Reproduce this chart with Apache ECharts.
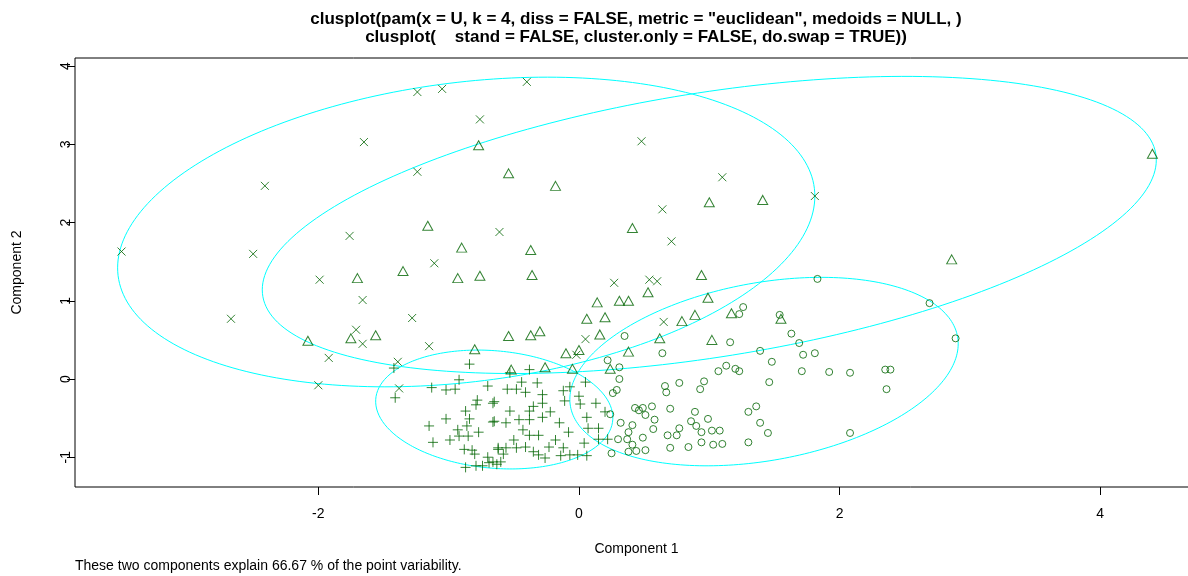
<!DOCTYPE html>
<html>
<head>
<meta charset="utf-8">
<script src="https://cdn.jsdelivr.net/npm/echarts@6/dist/echarts.min.js"></script>
<style>
html, body { margin: 0; padding: 0; background: #ffffff; }
#chart { width: 1188px; height: 576px; }
</style>
</head>
<body>
<div id="chart"></div>
<script>
// Cluster memberships on the first two principal components
const crossPts = [
  [-3.51, 1.63], [-1.24, 3.67], [-1.05, 3.71], [-0.40, 3.80], [-0.76, 3.32],
  [-1.65, 3.03], [-2.41, 2.47], [-1.24, 2.65], [-2.50, 1.60], [-2.67, 0.77],
  [-1.99, 1.27], [-1.76, 1.83], [-1.66, 1.01], [-1.28, 0.78], [-1.92, 0.27],
  [-2.00, -0.08], [-1.39, 0.22], [-1.11, 1.48], [-1.71, 0.63], [-1.66, 0.45],
  [-1.15, 0.42], [-1.38, -0.12], [0.48, 3.04], [1.10, 2.58], [0.64, 2.17],
  [0.71, 1.76], [-0.61, 1.88], [1.81, 2.34], [0.27, 1.23], [0.54, 1.27],
  [0.60, 1.25], [0.65, 0.73], [0.05, 0.51], [-0.02, 0.31]
];

const trianglePts = [
  [-1.16, 1.96], [-0.77, 2.99], [-0.54, 2.63], [-0.18, 2.47], [1.00, 2.26],
  [1.41, 2.29], [0.41, 1.93], [-0.90, 1.68], [-0.37, 1.65], [4.40, 2.88],
  [2.86, 1.53], [-1.70, 1.29], [-1.35, 1.38], [-2.08, 0.49], [-1.75, 0.52],
  [-1.56, 0.56], [-0.93, 1.29], [-0.76, 1.32], [-0.36, 1.33], [0.94, 1.33],
  [0.53, 1.11], [0.14, 0.98], [0.31, 1.00], [0.38, 1.00], [0.99, 1.04],
  [0.06, 0.77], [0.20, 0.79], [0.79, 0.74], [0.89, 0.82], [1.17, 0.84],
  [1.55, 0.77], [-0.30, 0.61], [0.16, 0.57], [0.62, 0.52], [1.02, 0.50],
  [-0.54, 0.55], [-0.37, 0.56], [-0.80, 0.38], [-0.10, 0.33], [0.00, 0.37],
  [-0.52, 0.12], [-0.26, 0.15], [-0.05, 0.13], [0.38, 0.35], [0.24, 0.13]
];

const circlePts = [
  [1.83, 1.28], [2.69, 0.97], [1.26, 0.92], [1.23, 0.83], [1.54, 0.82],
  [0.35, 0.55], [1.16, 0.47], [1.63, 0.58], [1.69, 0.46], [1.72, 0.31],
  [1.81, 0.33], [1.71, 0.10], [1.92, 0.09], [2.08, 0.08], [2.35, 0.12],
  [2.39, 0.12], [2.36, -0.13], [2.89, 0.52], [2.08, -0.69], [0.64, 0.33],
  [1.39, 0.36], [1.48, 0.22], [0.22, 0.24], [0.31, 0.15], [1.07, 0.10],
  [1.13, 0.17], [1.20, 0.13], [1.23, 0.10], [1.46, -0.04], [0.31, 0.00],
  [0.77, -0.05], [0.96, -0.03], [0.93, -0.13], [0.66, -0.09], [0.67, -0.17],
  [0.26, -0.18], [0.29, -0.14], [0.43, -0.37], [0.49, -0.37], [0.46, -0.40],
  [0.56, -0.35], [0.51, -0.46], [0.70, -0.38], [0.89, -0.42], [0.58, -0.52],
  [0.32, -0.56], [0.41, -0.59], [0.24, -0.45], [0.57, -0.64], [0.38, -0.68],
  [0.77, -0.63], [0.86, -0.54], [0.90, -0.60], [0.99, -0.51], [0.94, -0.68],
  [1.02, -0.66], [1.08, -0.66], [0.68, -0.72], [0.75, -0.72], [0.49, -0.75],
  [0.37, -0.77], [0.30, -0.77], [0.41, -0.84], [0.25, -0.95], [0.38, -0.93],
  [0.44, -0.92], [0.51, -0.91], [0.70, -0.88], [0.84, -0.87], [0.94, -0.81],
  [1.03, -0.84], [1.10, -0.83], [1.30, -0.42], [1.36, -0.35], [1.39, -0.56],
  [1.45, -0.69], [1.30, -0.81]
];

const plusPts = [
  [-1.42, 0.14], [-1.41, -0.24], [-1.13, -0.11], [-1.15, -0.60], [-1.12, -0.81],
  [-0.84, 0.19], [-0.92, -0.01], [-1.02, -0.14], [-0.95, -0.13], [-0.70, -0.09],
  [-0.78, -0.27], [-0.79, -0.33], [-0.66, -0.31], [-0.87, -0.41], [-1.02, -0.51],
  [-0.84, -0.51], [-0.66, -0.55], [-0.86, -0.60], [-0.77, -0.68], [-0.93, -0.65],
  [-0.92, -0.73], [-0.85, -0.73], [-0.99, -0.78], [-0.88, -0.90], [-0.82, -0.91],
  [-0.62, -0.90], [-0.70, -1.00], [-0.80, -0.96], [-0.87, -1.13], [-0.79, -1.11],
  [-0.74, -1.11], [-0.69, -1.07], [-0.63, -1.09], [-0.38, 0.12], [-0.53, 0.08],
  [0.05, -0.04], [-0.44, -0.04], [-0.48, -0.13], [-0.32, -0.05], [-0.55, -0.13],
  [-0.07, -0.10], [-0.41, -0.17], [-0.28, -0.20], [-0.12, -0.15], [-0.11, -0.28],
  [0.00, -0.22], [0.01, -0.32], [-0.65, -0.29], [0.13, -0.31], [-0.28, -0.31],
  [-0.35, -0.35], [-0.22, -0.42], [-0.53, -0.41], [-0.38, -0.41], [0.06, -0.49],
  [0.20, -0.42], [-0.65, -0.54], [-0.56, -0.56], [-0.46, -0.52], [-0.38, -0.52],
  [-0.28, -0.49], [-0.15, -0.56], [-0.08, -0.68], [0.07, -0.63], [0.15, -0.63],
  [-0.43, -0.65], [-0.38, -0.72], [-0.31, -0.72], [-0.18, -0.78], [-0.23, -0.87],
  [-0.50, -0.78], [-0.62, -0.88], [-0.56, -0.88], [-0.48, -0.88], [-0.41, -0.87],
  [-0.35, -0.93], [-0.31, -0.97], [-0.26, -1.01], [0.04, -0.82], [0.15, -0.77],
  [0.22, -0.77], [-0.12, -0.88], [-0.14, -0.98], [-0.07, -0.97], [-0.01, -0.97],
  [0.06, -0.98], [-0.58, -0.96], [-0.60, -1.06], [-0.66, -1.06]
];

// Cluster ellipses: centre, half extent along x and y, phase lag of y behind x (radians)
const ellipseParams = [
  { cx: -0.865, cy: 1.88, rx: 2.675, ry: 1.98, lag: 1.337 },
  { cx: 1.00, cy: 1.97, rx: 3.43, ry: 1.90, lag: 1.119 },
  { cx: 1.42, cy: 0.095, rx: 1.49, ry: 1.205, lag: 1.272 },
  { cx: -0.65, cy: -0.39, rx: 0.91, ry: 0.76, lag: 1.710 }
];

const xTicks = [-2, 0, 2, 4];
const yTicks = [-1, 0, 1, 2, 3, 4];

const titleLines = [
  'clusplot(pam(x = U, k = 4, diss = FALSE, metric = "euclidean", medoids = NULL, )',
  'clusplot(    stand = FALSE, cluster.only = FALSE, do.swap = TRUE))'
];
const captionText = 'These two components explain 66.67 % of the point variability.';

const FONT = '"Liberation Sans", Arial, Helvetica, sans-serif';
const POINT_COLOR = '#006400';
const ELLIPSE_COLOR = '#00ffff';

function ellipseOutline(e) {
  const pts = [];
  const n = 240;
  for (let i = 0; i <= n; i++) {
    const t = (i / n) * Math.PI * 2;
    pts.push([e.cx + e.rx * Math.cos(t), e.cy + e.ry * Math.cos(t - e.lag)]);
  }
  return pts;
}

const hollow = { color: 'rgba(0,0,0,0)', borderColor: POINT_COLOR, borderWidth: 1 };

function pointSeries(data, symbol, size) {
  return {
    type: 'scatter',
    data: data,
    symbol: symbol,
    symbolSize: size,
    itemStyle: hollow,
    silent: true,
    z: 3
  };
}

const series = [];
ellipseParams.forEach(function (e) {
  series.push({
    type: 'line',
    data: ellipseOutline(e),
    showSymbol: false,
    smooth: false,
    lineStyle: { color: ELLIPSE_COLOR, width: 1 },
    silent: true,
    z: 2
  });
});
series.push(pointSeries(crossPts, 'path://M0,0L8,8M8,0L0,8', 8));
series.push(pointSeries(trianglePts, 'triangle', [10, 9]));
series.push(pointSeries(circlePts, 'circle', 7));
series.push(pointSeries(plusPts, 'path://M5,0L5,10M0,5L10,5', 10));

const chart = echarts.init(document.getElementById('chart'), null, { renderer: 'canvas' });
chart.setOption({
  animation: false,
  backgroundColor: '#ffffff',
  grid: {
    left: 75, top: 58, right: -10, bottom: 89,
    show: true, borderColor: '#000000', borderWidth: 1,
    containLabel: false, outerBoundsMode: 'none'
  },
  xAxis: {
    type: 'value',
    min: -3.867, max: 4.75,
    splitLine: { show: false },
    axisLine: { show: false, onZero: false },
    axisTick: { show: true, length: 8, customValues: xTicks, lineStyle: { color: '#000000' } },
    axisLabel: { customValues: xTicks, margin: 20, fontSize: 14, color: '#000000', fontFamily: FONT },
    name: 'Component 1',
    nameLocation: 'middle',
    nameGap: 55,
    nameTextStyle: { fontSize: 14, color: '#000000', fontFamily: FONT }
  },
  yAxis: {
    type: 'value',
    min: -1.381, max: 4.105,
    splitLine: { show: false },
    axisLine: { show: false, onZero: false },
    axisTick: { show: true, length: 8, customValues: yTicks, lineStyle: { color: '#000000' } },
    axisLabel: { customValues: yTicks, rotate: 90, margin: 2, fontSize: 14, color: '#000000', fontFamily: FONT },
    name: 'Component 2',
    nameLocation: 'middle',
    nameGap: 51,
    nameTextStyle: { fontSize: 14, color: '#000000', fontFamily: FONT }
  },
  graphic: [
    {
      type: 'text', x: 636, y: 19,
      style: { text: titleLines[0], font: 'bold 17px ' + FONT, fill: '#000000', textAlign: 'center', textVerticalAlign: 'middle' }
    },
    {
      type: 'text', x: 636, y: 37,
      style: { text: titleLines[1], font: 'bold 17px ' + FONT, fill: '#000000', textAlign: 'center', textVerticalAlign: 'middle' }
    },
    {
      type: 'text', x: 75, y: 566,
      style: { text: captionText, font: '14px ' + FONT, fill: '#000000', textAlign: 'left', textVerticalAlign: 'middle' }
    }
  ],
  series: series
});
</script>
</body>
</html>
